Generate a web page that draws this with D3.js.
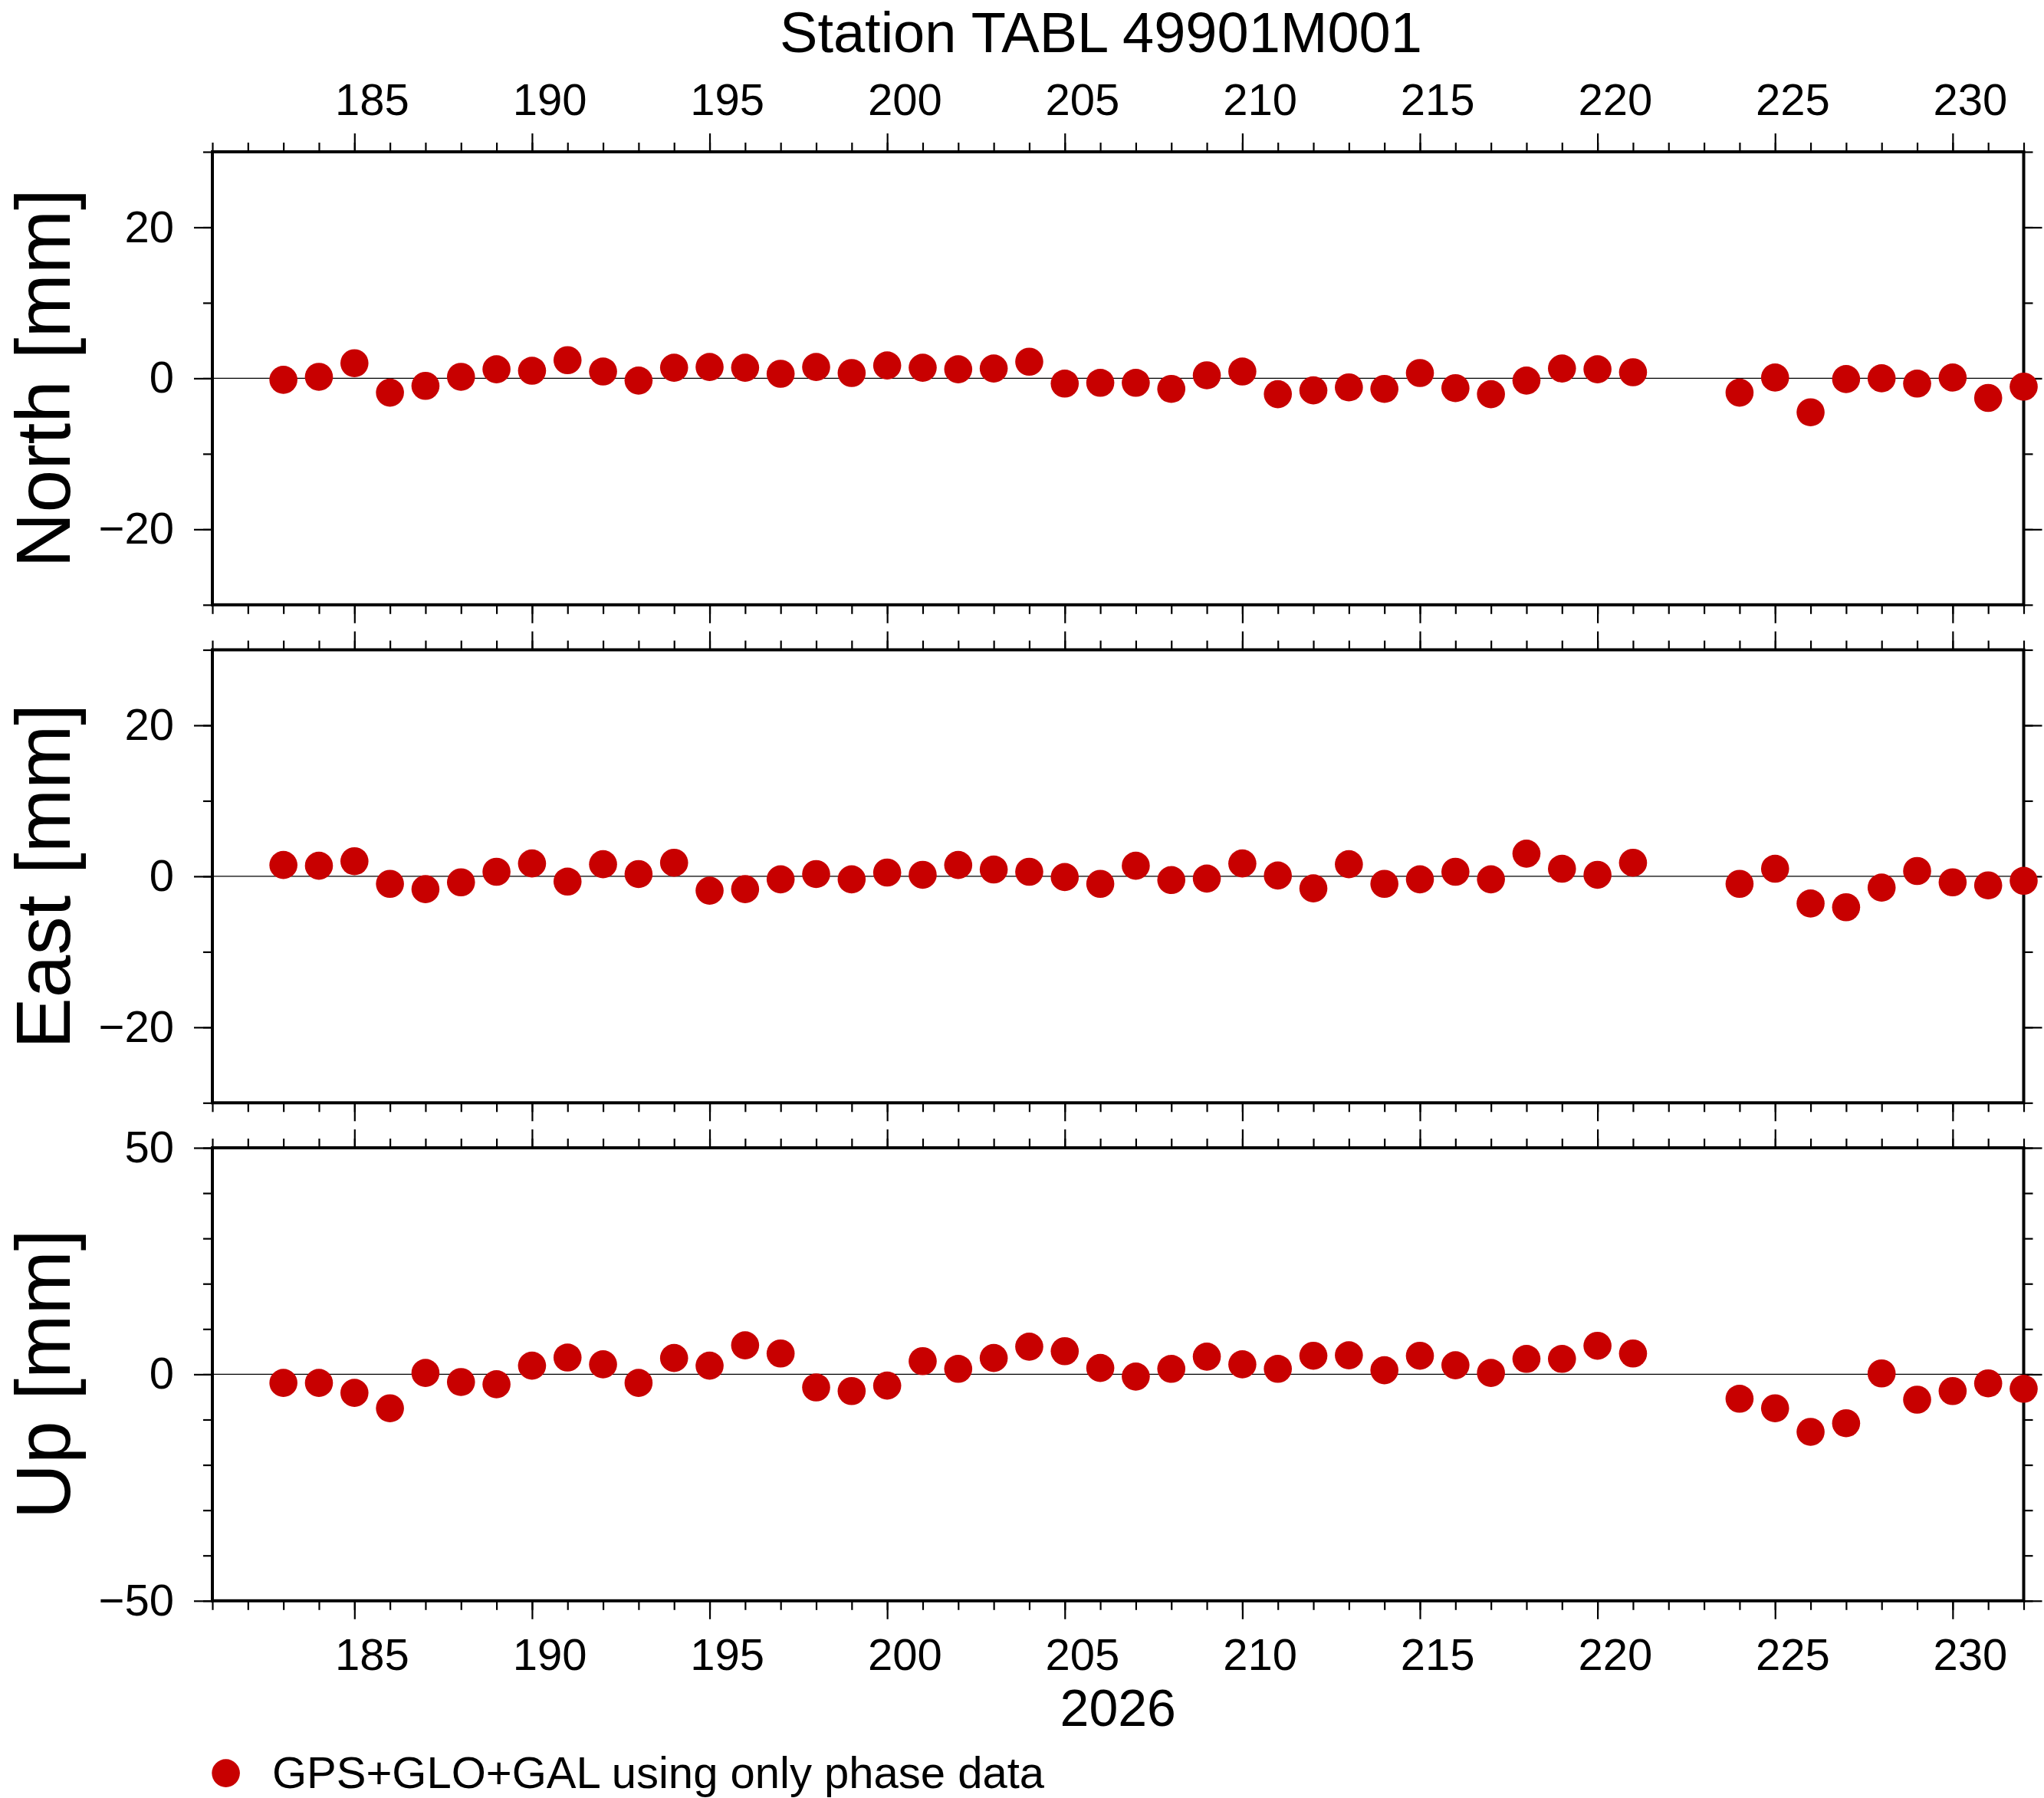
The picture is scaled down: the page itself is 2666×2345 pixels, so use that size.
<!DOCTYPE html>
<html>
<head>
<meta charset="utf-8">
<script src="https://cdn.jsdelivr.net/npm/d3@7"></script>
<style>
  html, body { margin: 0; padding: 0; background: #fff; }
  svg { display: block; font-family: "Liberation Sans", Arial, Helvetica, sans-serif; }
</style>
</head>
<body>
<script>
// ---- data ----
const title = "Station TABL 49901M001";
const yearLabel = "2026";
const legendLabel = "GPS+GLO+GAL using only phase data";
const components = ["North [mm]", "East [mm]", "Up [mm]"];

const days = [183,184,185,186,187,188,189,190,191,192,193,194,195,196,197,198,199,200,201,202,203,204,205,206,207,208,209,210,211,212,213,214,215,216,217,218,219,220,221,224,225,226,227,228,229,230,231,232];

const north = [-0.2,0.2,2.0,-1.9,-1.0,0.2,1.2,1.0,2.4,0.9,-0.3,1.4,1.5,1.4,0.6,1.5,0.7,1.7,1.4,1.2,1.3,2.2,-0.7,-0.6,-0.6,-1.4,0.4,0.9,-2.1,-1.6,-1.2,-1.4,0.7,-1.3,-2.1,-0.3,1.3,1.2,0.8,-1.9,0.1,-4.5,-0.1,0.0,-0.7,0.1,-2.6,-1.1];

const east = [1.5,1.4,2.0,-1.0,-1.7,-0.8,0.6,1.7,-0.7,1.6,0.3,1.8,-1.9,-1.7,-0.4,0.3,-0.4,0.5,0.2,1.5,0.9,0.6,-0.1,-1.0,1.4,-0.5,-0.3,1.7,0.1,-1.6,1.6,-1.0,-0.4,0.6,-0.4,3.0,1.0,0.2,1.8,-1.0,1.0,-3.6,-4.1,-1.5,0.7,-0.8,-1.2,-0.6];

const up = [-1.9,-1.9,-4.1,-7.5,0.3,-1.7,-2.2,1.9,3.7,2.2,-1.9,3.6,1.9,6.4,4.6,-2.9,-3.7,-2.5,2.9,1.2,3.6,6.1,5.1,1.4,-0.5,1.2,3.9,2.2,1.2,4.1,4.2,0.9,4.1,2.0,0.3,3.4,3.4,6.3,4.6,-5.4,-7.5,-12.7,-10.8,0.2,-5.6,-3.7,-2.0,-3.2];

const xDomain = [181, 232];
const xMajorTicks = [185,190,195,200,205,210,215,220,225,230];
const xMinorTicks = [181,182,183,184,185,186,187,188,189,190,191,192,193,194,195,196,197,198,199,200,201,202,203,204,205,206,207,208,209,210,211,212,213,214,215,216,217,218,219,220,221,222,223,224,225,226,227,228,229,230,231,232];

const yDomains = [[-30, 30], [-30, 30], [-50, 50]];
const yMajorTicks = [[-20, 0, 20], [-20, 0, 20], [-50, 0, 50]];
const yMinorTicks = [
  [-30,-20,-10,0,10,20,30],
  [-30,-20,-10,0,10,20,30],
  [-50,-40,-30,-20,-10,0,10,20,30,40,50]
];
const series = [north, east, up];

// ---- layout ----
const W = 2666, H = 2345;
const left = 277, right = 2639.5;
const panelTops = [198, 847.5, 1497];
const panelH = 590.8;
const color = "#c80000";
const r = 18.3;
const FONT = "'Liberation Sans', Arial, Helvetica, sans-serif";

const svg = d3.select("body").append("svg")
  .attr("width", W).attr("height", H).attr("viewBox", `0 0 ${W} ${H}`);

svg.append("rect").attr("width", W).attr("height", H).attr("fill", "#fff");

const x = d3.scaleLinear().domain(xDomain).range([left, right]);
const fmt = d3.format("d");

function styleAxis(g, fs) {
  g.select(".domain").remove();
  g.selectAll(".tick line").attr("stroke", "#000").attr("stroke-width", 2.2);
  g.selectAll(".tick text").attr("font-size", fs).attr("fill", "#000")
    .attr("font-family", FONT);
}

panelTops.forEach((top, i) => {
  const bottom = top + panelH;
  const y = d3.scaleLinear().domain(yDomains[i]).range([bottom, top]);

  // top x axis ticks
  styleAxis(svg.append("g").attr("transform", `translate(0,${top})`)
    .call(d3.axisTop(x).tickValues(xMinorTicks).tickSize(12).tickFormat("")), 58);
  styleAxis(svg.append("g").attr("transform", `translate(0,${top})`)
    .call(d3.axisTop(x).tickValues(xMajorTicks).tickSize(24).tickFormat("")), 58);

  // bottom x axis ticks
  styleAxis(svg.append("g").attr("transform", `translate(0,${bottom})`)
    .call(d3.axisBottom(x).tickValues(xMinorTicks).tickSize(12).tickFormat("")), 58);
  styleAxis(svg.append("g").attr("transform", `translate(0,${bottom})`)
    .call(d3.axisBottom(x).tickValues(xMajorTicks).tickSize(24).tickFormat("")), 58);

  // x labels (centered on the day interval)
  if (i === 0) {
    svg.append("g").selectAll("text").data(xMajorTicks).join("text")
      .attr("x", d => x(d + 0.5)).attr("y", 150)
      .attr("text-anchor", "middle").attr("font-size", 58).attr("fill", "#000")
      .text(d => fmt(d));
  }
  if (i === 2) {
    svg.append("g").selectAll("text").data(xMajorTicks).join("text")
      .attr("x", d => x(d + 0.5)).attr("y", 2178)
      .attr("text-anchor", "middle").attr("font-size", 58).attr("fill", "#000")
      .text(d => fmt(d));
  }

  // left y axis
  styleAxis(svg.append("g").attr("transform", `translate(${left},0)`)
    .call(d3.axisLeft(y).tickValues(yMinorTicks[i]).tickSize(12).tickFormat("")), 58);
  styleAxis(svg.append("g").attr("transform", `translate(${left},0)`)
    .call(d3.axisLeft(y).tickValues(yMajorTicks[i]).tickSize(24).tickPadding(26).tickFormat(fmt)), 58);

  // right y axis
  styleAxis(svg.append("g").attr("transform", `translate(${right},0)`)
    .call(d3.axisRight(y).tickValues(yMinorTicks[i]).tickSize(12).tickFormat("")), 58);
  styleAxis(svg.append("g").attr("transform", `translate(${right},0)`)
    .call(d3.axisRight(y).tickValues(yMajorTicks[i]).tickSize(24).tickFormat("")), 58);

  // zero line
  svg.append("line")
    .attr("x1", left).attr("x2", right)
    .attr("y1", y(0)).attr("y2", y(0))
    .attr("stroke", "#000").attr("stroke-width", 1.2);

  // frame
  svg.append("rect")
    .attr("x", left).attr("y", top)
    .attr("width", right - left).attr("height", panelH)
    .attr("fill", "none").attr("stroke", "#000").attr("stroke-width", 4);

  // points
  svg.append("g").selectAll("circle")
    .data(days.map((d, k) => ({ d, v: series[i][k] })))
    .join("circle")
    .attr("cx", p => x(p.d))
    .attr("cy", p => y(p.v))
    .attr("r", r)
    .attr("fill", color);

  // component label
  svg.append("text")
    .attr("transform", `translate(91,${(top + bottom) / 2}) rotate(-90)`)
    .attr("text-anchor", "middle")
    .attr("font-size", 100)
    .attr("fill", "#000")
    .text(components[i]);
});

// title
svg.append("text")
  .attr("x", 1436).attr("y", 68)
  .attr("text-anchor", "middle")
  .attr("font-size", 74)
  .attr("fill", "#000")
  .text(title);

// year label
svg.append("text")
  .attr("x", (left + right) / 2).attr("y", 2250.5)
  .attr("text-anchor", "middle")
  .attr("font-size", 68)
  .attr("fill", "#000")
  .text(yearLabel);

// legend
svg.append("circle")
  .attr("cx", 294.6).attr("cy", 2312.6).attr("r", r)
  .attr("fill", color);
svg.append("text")
  .attr("x", 355).attr("y", 2331.5)
  .attr("font-size", 58)
  .attr("fill", "#000")
  .text(legendLabel);
</script>
</body>
</html>
